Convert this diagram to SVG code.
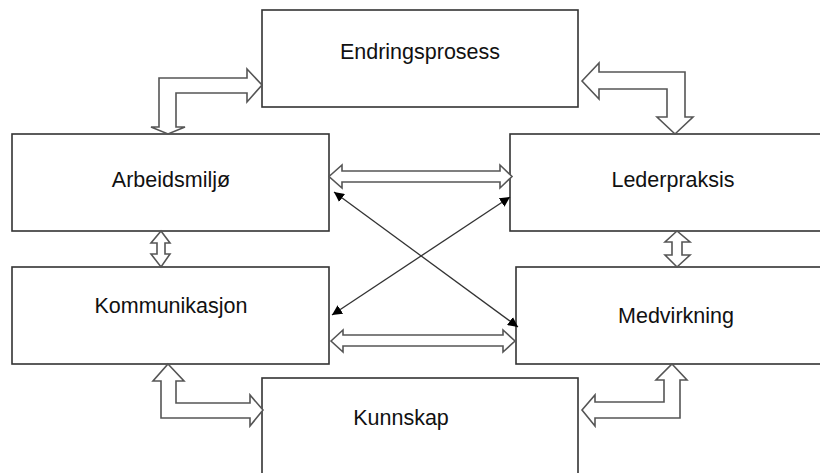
<svg xmlns="http://www.w3.org/2000/svg" width="820" height="473" viewBox="0 0 820 473">
<defs>
<style>
.box{fill:#fff;stroke:#333;stroke-width:1.6}
.blk{fill:#fff;stroke:#555;stroke-width:1.6;stroke-linejoin:miter}
.thin{fill:none;stroke:#333;stroke-width:1.3;marker-start:url(#ah);marker-end:url(#ah)}
.lbl{font-family:"Liberation Sans",Arial,sans-serif;font-size:21.5px;fill:#111;text-anchor:middle}
</style>
<marker id="ah" viewBox="0 0 10 10" refX="10" refY="5" markerWidth="10" markerHeight="10" markerUnits="userSpaceOnUse" orient="auto-start-reverse">
<path d="M0,0 L10,5 L0,10 z" fill="#000"/>
</marker>
</defs>
<rect width="820" height="473" fill="#fff"/>
<g id="endringsprosess"><rect class="box" x="262" y="10" width="316" height="97"/><text class="lbl" x="420" y="59">Endringsprosess</text></g>
<g id="arbeidsmiljo"><rect class="box" x="12" y="134" width="317" height="97"/><text class="lbl" x="171" y="187">Arbeidsmiljø</text></g>
<g id="lederpraksis"><rect class="box" x="510" y="134" width="320" height="97"/><text class="lbl" x="673" y="187">Lederpraksis</text></g>
<g id="kommunikasjon"><rect class="box" x="12" y="267" width="317" height="97"/><text class="lbl" x="171" y="313">Kommunikasjon</text></g>
<g id="medvirkning"><rect class="box" x="516" y="267" width="314" height="97"/><text class="lbl" x="676" y="323">Medvirkning</text></g>
<g id="kunnskap"><rect class="box" x="262" y="378" width="316" height="110"/><text class="lbl" x="401" y="425">Kunnskap</text></g>
<g id="connectors">
<polygon class="blk" points="262,85 247,69 247,78 159,78 159,127 151,127 168,134 185,127 176,127 176,93 247,93 247,102"/>
<polygon class="blk" points="582,81 599,63 599,72 685,72 685,117 693,117 675,134 657,117 667,117 667,89 599,89 599,99"/>
<polygon class="blk" points="329,176.5 342,165 342,171 500,171 500,165 512,176.5 500,188 500,182 342,182 342,188"/>
<polygon class="blk" points="161,231 151,243 157,243 157,254 151,254 161,267 170,254 165,254 165,243 170,243"/>
<polygon class="blk" points="677,231 665,242 672,242 672,255 665,255 677,267 690,255 682,255 682,242 690,242"/>
<polygon class="blk" points="168,364 184,381 176,381 176,403 250,403 250,395 263,410 250,426 250,418 161,418 161,381 153,381"/>
<polygon class="blk" points="672,364 687,380 680,380 680,418 595,418 595,426 582,410 595,395 595,402 664,402 664,380 656,380"/>
<polygon class="blk" points="331,341 343,330 343,335 503,335 503,330 515,341 503,352 503,346 343,346 343,352"/>
<line class="thin" x1="334" y1="192" x2="518" y2="327"/>
<line class="thin" x1="510" y1="197" x2="332" y2="315"/>
</g>
</svg>
